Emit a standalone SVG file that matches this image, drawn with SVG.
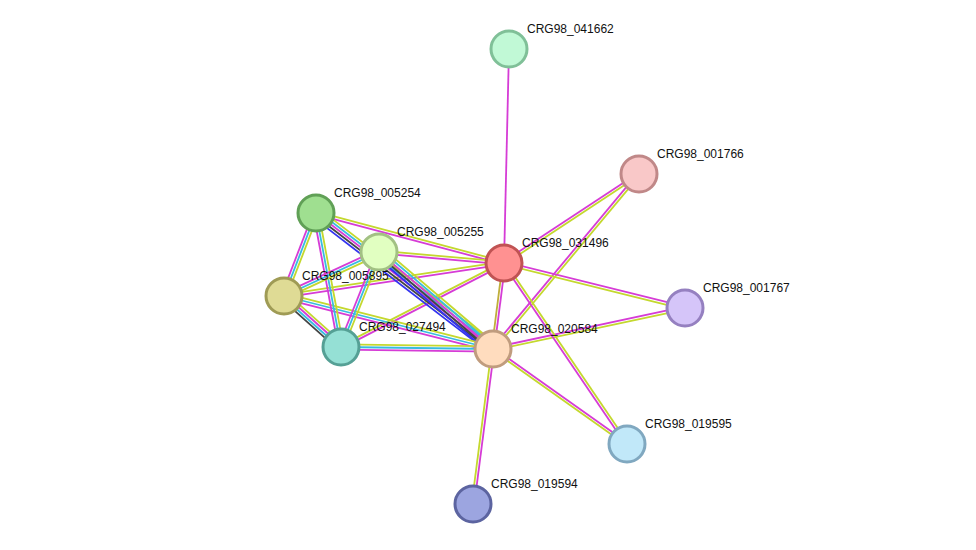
<svg xmlns="http://www.w3.org/2000/svg" width="976" height="550" viewBox="0 0 976 550">
<style>
line{stroke-width:1.8;fill:none}
.y{stroke:#c4d82e}.m{stroke:#d63cd6}.c{stroke:#38bce0}.k{stroke:#444444}.b{stroke:#3232f0}
circle{stroke-width:3}
text{font-family:"Liberation Sans",Arial,sans-serif;font-size:12px;fill:#111}
</style>
<rect width="976" height="550" fill="#ffffff"/>
<g id="edges">
<line class="m" x1="509" y1="49" x2="504" y2="263"/>
<line class="m" x1="638.29" y1="172.91" x2="503.29" y2="261.91"/>
<line class="y" x1="639.71" y1="175.09" x2="504.71" y2="264.09"/>
<line class="m" x1="638" y1="173.17" x2="492" y2="348.17"/>
<line class="y" x1="640" y1="174.83" x2="494" y2="349.83"/>
<line class="m" x1="504.31" y1="261.74" x2="685.31" y2="306.74"/>
<line class="y" x1="503.69" y1="264.26" x2="684.69" y2="309.26"/>
<line class="m" x1="492.73" y1="347.73" x2="684.73" y2="306.73"/>
<line class="y" x1="493.27" y1="350.27" x2="685.27" y2="309.27"/>
<line class="m" x1="502.93" y1="263.73" x2="625.93" y2="444.73"/>
<line class="y" x1="505.07" y1="262.27" x2="628.07" y2="443.27"/>
<line class="m" x1="493.75" y1="347.94" x2="627.75" y2="442.94"/>
<line class="y" x1="492.25" y1="350.06" x2="626.25" y2="445.06"/>
<line class="y" x1="491.71" y1="348.83" x2="471.71" y2="503.83"/>
<line class="m" x1="494.29" y1="349.17" x2="474.29" y2="504.17"/>
<line class="y" x1="502.71" y1="262.83" x2="491.71" y2="348.83" style="stroke:#bfae3a"/>
<line class="m" x1="505.29" y1="263.17" x2="494.29" y2="349.17"/>
<line class="y" x1="316.33" y1="211.74" x2="504.33" y2="261.74"/>
<line class="m" x1="315.67" y1="214.26" x2="503.67" y2="264.26"/>
<line class="y" x1="379.11" y1="250.71" x2="504.11" y2="261.71"/>
<line class="m" x1="378.89" y1="253.29" x2="503.89" y2="264.29"/>
<line class="y" x1="283.81" y1="294.71" x2="503.81" y2="261.71"/>
<line class="m" x1="284.19" y1="297.29" x2="504.19" y2="264.29"/>
<line class="y" x1="340.4" y1="345.85" x2="503.4" y2="261.85"/>
<line class="m" x1="341.6" y1="348.16" x2="504.6" y2="264.16"/>
<line class="y" x1="319.17" y1="208.88" x2="496.17" y2="344.88"/>
<line class="c" x1="317.58" y1="210.94" x2="494.58" y2="346.94"/>
<line class="m" x1="316" y1="213" x2="493" y2="349"/>
<line class="k" x1="314.42" y1="215.06" x2="491.42" y2="351.06"/>
<line class="b" x1="312.83" y1="217.12" x2="489.83" y2="353.12"/>
<line class="y" x1="382.37" y1="248.04" x2="496.37" y2="345.04"/>
<line class="c" x1="380.69" y1="250.02" x2="494.69" y2="347.02"/>
<line class="m" x1="379" y1="252" x2="493" y2="349"/>
<line class="k" x1="377.32" y1="253.98" x2="491.32" y2="350.98"/>
<line class="b" x1="375.63" y1="255.96" x2="489.63" y2="352.96"/>
<line class="y" x1="284.64" y1="293.48" x2="493.64" y2="346.48"/>
<line class="c" x1="284" y1="296" x2="493" y2="349"/>
<line class="m" x1="283.36" y1="298.52" x2="492.36" y2="351.52"/>
<line class="y" x1="341.03" y1="344.4" x2="493.03" y2="346.4"/>
<line class="c" x1="341" y1="347" x2="493" y2="349"/>
<line class="m" x1="340.97" y1="349.6" x2="492.97" y2="351.6"/>
<line class="m" x1="313.57" y1="212.06" x2="281.57" y2="295.06"/>
<line class="c" x1="316" y1="213" x2="284" y2="296"/>
<line class="y" x1="318.43" y1="213.94" x2="286.43" y2="296.94"/>
<line class="m" x1="313.44" y1="213.48" x2="338.44" y2="347.48"/>
<line class="c" x1="316" y1="213" x2="341" y2="347"/>
<line class="y" x1="318.56" y1="212.52" x2="343.56" y2="346.52"/>
<line class="m" x1="377.91" y1="249.64" x2="282.91" y2="293.64"/>
<line class="c" x1="379" y1="252" x2="284" y2="296"/>
<line class="y" x1="380.09" y1="254.36" x2="285.09" y2="298.36"/>
<line class="m" x1="376.59" y1="251.03" x2="338.59" y2="346.03"/>
<line class="c" x1="379" y1="252" x2="341" y2="347"/>
<line class="y" x1="381.41" y1="252.97" x2="343.41" y2="347.97"/>
<line class="y" x1="286.6" y1="293.09" x2="343.6" y2="344.09"/>
<line class="m" x1="284.87" y1="295.03" x2="341.87" y2="346.03"/>
<line class="c" x1="283.13" y1="296.97" x2="340.13" y2="347.97"/>
<line class="k" x1="281.4" y1="298.91" x2="338.4" y2="349.91"/>
</g>
<g id="n041662"><circle cx="509" cy="49" r="18" fill="#c1f9d6" stroke="#80c098"/><text x="527" y="33">CRG98_041662</text></g>
<g id="n001766"><circle cx="639" cy="174" r="18" fill="#f9c8c8" stroke="#c08888"/><text x="657" y="158">CRG98_001766</text></g>
<g id="n005254"><circle cx="316" cy="213" r="18" fill="#9fdf90" stroke="#60a056"/><text x="334" y="197">CRG98_005254</text></g>
<g id="n005255"><circle cx="379" cy="252" r="18" fill="#e1ffc1" stroke="#a2c183"/><text x="397" y="236">CRG98_005255</text></g>
<g id="n031496"><circle cx="504" cy="263" r="18" fill="#ff9191" stroke="#c05353"/><text x="522" y="247">CRG98_031496</text></g>
<g id="n005895"><circle cx="284" cy="296" r="18" fill="#dfdb95" stroke="#9f9b55"/><text x="302" y="280">CRG98_005895</text></g>
<g id="n001767"><circle cx="685" cy="308" r="18" fill="#d5c5f9" stroke="#9580c0"/><text x="703" y="292">CRG98_001767</text></g>
<g id="n027494"><circle cx="341" cy="347" r="18" fill="#95e0d5" stroke="#55a095"/><text x="359" y="331">CRG98_027494</text></g>
<g id="n020584"><circle cx="493" cy="349" r="18" fill="#ffdcbe" stroke="#c09c7e"/><text x="511" y="333">CRG98_020584</text></g>
<g id="n019595"><circle cx="627" cy="444" r="18" fill="#c1e8f9" stroke="#80a8c0"/><text x="645" y="428">CRG98_019595</text></g>
<g id="n019594"><circle cx="473" cy="504" r="18" fill="#9ca5e0" stroke="#5c64a0"/><text x="491" y="488">CRG98_019594</text></g>
</svg>
